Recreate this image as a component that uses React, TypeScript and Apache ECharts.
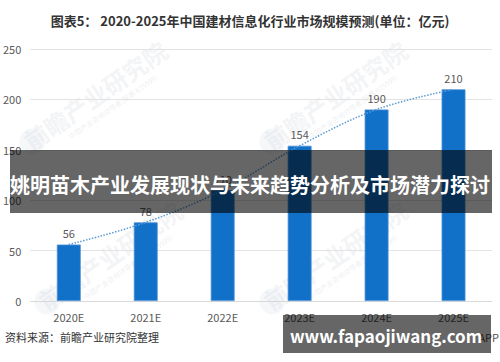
import React, { useEffect, useRef } from "react";
import * as echarts from "echarts";

const categories = ["2020E", "2021E", "2022E", "2023E", "2024E", "2025E"];
const marketSize = [56, 78, 110, 154, 190, 210];
const yTicks = { min: 0, max: 250, interval: 50 };
const titleText = "图表5： 2020-2025年中国建材信息化行业市场规模预测(单位：亿元)";
const sourceText = "资料来源：前瞻产业研究院整理";
const bannerText = "姚明苗木产业发展现状与未来趋势分析及市场潜力探讨";
const siteText = "www.fapaojiwang.com";
const appText = "APP";
const watermarkText = "前瞻产业研究院";
const watermarkSub = "中国产业咨询领导者(股票 835599)";

const FONT = "'Noto Sans CJK SC', 'Noto Sans', sans-serif";

export default function App() {
  const ref = useRef<HTMLDivElement>(null);
  useEffect(() => {
    document.body.style.margin = "0";
    if (!ref.current) return;
    const chart = echarts.init(ref.current, null, { renderer: "svg" });
    const wm = (x: number, y: number) => ({
      type: "group",
      x,
      y,
      rotation: (35 * Math.PI) / 180,
      z: 0,
      silent: true,
      children: [
        {
          type: "circle",
          shape: { cx: -78, cy: 2, r: 13 },
          style: { fill: "rgba(205,212,222,0.18)" },
        },
        {
          type: "text",
          x: 0,
          y: 0,
          style: {
            text: watermarkText,
            font: `bold 24px ${FONT}`,
            fill: "rgba(205,212,222,0.26)",
            align: "center",
            verticalAlign: "middle",
          },
        },
        {
          type: "text",
          x: 8,
          y: 20,
          style: {
            text: watermarkSub,
            font: `7px ${FONT}`,
            fill: "rgba(205,212,222,0.36)",
            align: "center",
            verticalAlign: "middle",
          },
        },
      ],
    });
    chart.setOption({
      animation: false,
      backgroundColor: "#ffffff",
      title: {
        text: titleText,
        left: "center",
        top: 9,
        textStyle: { fontFamily: FONT, fontSize: 13, fontWeight: "bold", color: "#333333" },
      },
      grid: { left: 30, right: 8, top: 49, bottom: 61 },
      xAxis: {
        type: "category",
        data: categories,
        axisLine: { lineStyle: { color: "#d9d9d9" } },
        axisTick: { show: false },
        axisLabel: { color: "#595959", fontSize: 11, fontFamily: FONT, margin: 10 },
      },
      yAxis: {
        type: "value",
        min: yTicks.min,
        max: yTicks.max,
        interval: yTicks.interval,
        axisLine: { show: false },
        axisTick: { show: false },
        axisLabel: { color: "#595959", fontSize: 11, fontFamily: FONT, margin: 9 },
        splitLine: { lineStyle: { color: "#e3e3e3" } },
      },
      series: [
        {
          type: "bar",
          data: marketSize,
          barWidth: "31%",
          z: 2,
          itemStyle: { color: "#1170C8", borderColor: "#4a90d6", borderWidth: 0.8 },
          label: {
            show: true,
            position: "top",
            distance: 6,
            color: "#595959",
            fontSize: 11,
            fontFamily: FONT,
          },
        },
        {
          type: "line",
          data: marketSize,
          smooth: 0.35,
          symbol: "none",
          z: 3,
          lineStyle: { color: "#5B9BD5", width: 1.5, type: [1.5, 1.5] },
        },
      ],
      graphic: [
        wm(95, 95),
        wm(335, 95),
        wm(110, 255),
        wm(335, 255),
        {
          type: "text",
          left: 5,
          top: 331,
          z: 5,
          style: { text: sourceText, font: `11px ${FONT}`, fill: "#333333" },
        },
        {
          type: "text",
          x: 499,
          y: 337,
          z: 5,
          style: {
            text: appText,
            font: `11px ${FONT}`,
            fill: "#555555",
            align: "right",
            verticalAlign: "middle",
          },
        },
        {
          type: "rect",
          z: 50,
          shape: { x: 10, y: 150, width: 482, height: 63 },
          style: { fill: "rgba(0,0,0,0.6)" },
        },
        {
          type: "text",
          z: 51,
          x: 250,
          y: 184,
          style: {
            text: bannerText,
            font: `bold 20px ${FONT}`,
            fill: "#ffffff",
            align: "center",
            verticalAlign: "middle",
          },
        },
        {
          type: "rect",
          z: 50,
          shape: { x: 283, y: 315, width: 208, height: 38 },
          style: { fill: "rgba(0,0,0,0.6)" },
        },
        {
          type: "text",
          z: 51,
          x: 386,
          y: 335,
          style: {
            text: siteText,
            font: `bold 17px ${FONT}`,
            fill: "#ffffff",
            align: "center",
            verticalAlign: "middle",
          },
        },
      ],
    });
    return () => chart.dispose();
  }, []);
  return <div ref={ref} style={{ width: 500, height: 362 }} />;
}
